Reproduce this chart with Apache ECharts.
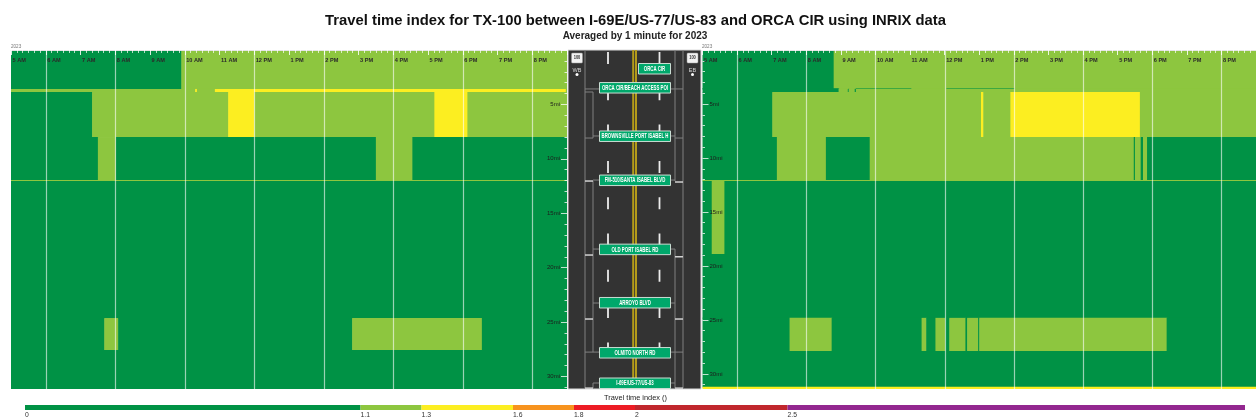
<!DOCTYPE html>
<html><head><meta charset="utf-8">
<style>html,body{margin:0;padding:0;background:#fff}#c{width:1256px;height:419px}</style>
<script src="https://cdn.jsdelivr.net/npm/echarts@6/dist/echarts.min.js"></script>
</head><body><div id="c"></div>
<script>
// --- Data: [startMinute, endMinute, topMile, bottomMile, travelTimeIndex]
const leftSpans = [
  [300,594,0,3.58,1.0],[594,1260,0,3.58,1.2],
  [300,618,3.58,3.86,1.2],[618,621,3.58,3.86,1.4],[621,652,3.58,3.86,1.2],[652,1258,3.58,3.86,1.4],[1258,1260,3.58,3.86,1.2],
  [300,440,3.86,8.0,1.0],[440,675,3.86,8.0,1.2],[675,720,3.86,8.0,1.4],[720,1031,3.86,8.0,1.2],[1031,1088,3.86,8.0,1.4],[1088,1260,3.86,8.0,1.2],
  [300,450,8.0,11.95,1.0],[450,481,8.0,11.95,1.2],[481,930,8.0,11.95,1.0],[930,993,8.0,11.95,1.2],[993,1260,8.0,11.95,1.0],
  [300,1260,11.95,12.04,1.2],
  [300,1260,12.04,24.63,1.0],
  [300,461,24.63,27.57,1.0],[461,485,24.63,27.57,1.2],[485,889,24.63,27.57,1.0],[889,1113,24.63,27.57,1.2],[1113,1260,24.63,27.57,1.0],
  [300,1260,27.57,31.15,1.0]
];
const rightSpans = [
  [300,527.5,0,3.55,1.0],[527.5,1260,0,3.55,1.2],
  [300,536,3.55,3.6,1.0],[536,566,3.55,3.6,1.2],[566,662,3.55,3.6,1.0],[662,723,3.55,3.6,1.2],[723,841,3.55,3.6,1.0],[841,1260,3.55,3.6,1.2],
  [300,536,3.6,3.89,1.0],[536,552,3.6,3.89,1.2],[552,553.5,3.6,3.89,1.0],[553.5,564,3.6,3.89,1.2],[564,566,3.6,3.89,1.0],[566,1260,3.6,3.89,1.2],
  [300,421,3.89,8.06,1.0],[421,783,3.89,8.06,1.2],[783,787,3.89,8.06,1.4],[787,834,3.89,8.06,1.2],[834,1058.6,3.89,8.06,1.4],[1058.6,1260,3.89,8.06,1.2],
  [300,429,8.06,12.04,1.0],[429,514,8.06,12.04,1.2],[514,590,8.06,12.04,1.0],[590,1048,8.06,12.04,1.2],[1048,1050,8.06,12.04,1.0],[1050,1060,8.06,12.04,1.2],[1060,1064,8.06,12.04,1.0],[1064,1071,8.06,12.04,1.2],[1071,1260,8.06,12.04,1.0],
  [300,1260,12.04,12.13,1.2],
  [300,316,12.13,18.89,1.0],[316,338,12.13,18.89,1.2],[338,1260,12.13,18.89,1.0],
  [300,1260,18.89,24.81,1.0],
  [300,451,24.81,27.87,1.0],[451,524,24.81,27.87,1.2],[524,680,24.81,27.87,1.0],[680,688,24.81,27.87,1.2],[688,704,24.81,27.87,1.0],[704,721,24.81,27.87,1.2],[721,728,24.81,27.87,1.0],[728,756,24.81,27.87,1.2],[756,759,24.81,27.87,1.0],[759,778,24.81,27.87,1.2],[778,780,24.81,27.87,1.0],[780,1105,24.81,27.87,1.2],[1105,1260,24.81,27.87,1.0],
  [300,1260,27.87,31.2,1.0],
  [300,1260,31.2,31.4,1.4]
];
const evenHourLines = [360,480,600,720,840,960,1080,1200];
const signNames = ['ORCA CIR','ORCA CIR/BEACH ACCESS POI','BROWNSVILLE PORT ISABEL H','FM-510/SANTA ISABEL BLVD','OLD PORT ISABEL RD','ARROYO BLVD','OLMITO NORTH RD','I-69E/US-77/US-83'];
const signMiles = [1.7,3.45,7.9,11.95,18.3,23.2,27.8,30.6];
const directionLabels = ['WB','EB'];
const legendBreaks = [0,1.1,1.3,1.6,1.8,2,2.5,4];
const legendColors = ['#009245','#8DC63F','#FCEE21','#F7931E','#ED1C24','#C1272D','#93278F'];
const legendTicks = [0,1.1,1.3,1.6,1.8,2,2.5];
// road connector polylines: [laneUnit, mile]
const roadConnectors = [
  [[17,0],[17,31.15]],[[17,3.58],[31,3.58]],[[17,3.86],[25,3.86],[25,7.9],[31,7.9]],[[25,7.9],[25,8.09],[17,8.09]],
  [[25,12.04],[25,18.29],[31,18.29]],[[25,18.29],[25,27.76]],[[25,23.25],[31,23.25]],[[17,27.76],[31,27.76]],
  [[25,31.15],[25,30.6],[31,30.6]],[[25,11.95],[31,11.95]],
  [[115,0],[115,31.15]],[[107,0],[107,12.04]],[[103,3.58],[115,3.58]],[[103,7.9],[107,7.9]],[[107,8.09],[115,8.09]],[[103,11.95],[107,11.95]],
  [[103,18.29],[107,18.29],[107,31.15]],[[103,23.25],[107,23.25]],[[103,27.76],[115,27.76]],[[103,30.6],[107,30.6]]
];
const roadBars = [
  [[17,12.04],[25,12.04]],[[17,18.84],[25,18.84]],[[17,24.72],[25,24.72]],[[17,31.07],[25,31.07]],
  [[107,12.13],[115,12.13]],[[107,19],[115,19]],[[107,24.72],[115,24.72]],[[107,31.07],[115,31.07]]
];

function ttiColor(v){
  for(let i=legendColors.length-1;i>=0;i--) if(v>=legendBreaks[i]) return legendColors[i];
  return legendColors[0];
}
const FONT='"Liberation Sans",Arial,sans-serif';
function spanSeries(xi,data,maxMi){
  return {type:'custom',xAxisIndex:xi,yAxisIndex:xi,silent:true,animation:false,data:data,z:2,
    encode:{x:[0,1],y:[2,3]},
    renderItem(p,api){
      const a=api.coord([api.value(0),api.value(2)]),b=api.coord([api.value(1),api.value(3)]);
      const w=b[0]-a[0]+(api.value(1)<1260?0.6:0), h=b[1]-a[1]+(api.value(3)<maxMi?0.6:0);
      return {type:'rect',shape:{x:a[0],y:a[1],width:w,height:h},style:{fill:ttiColor(api.value(4))}};
    }};
}
function guideSeries(xi,maxMi){
  return {type:'custom',xAxisIndex:xi,yAxisIndex:xi,silent:true,animation:false,data:evenHourLines.map(h=>[h]),z:3,
    encode:{x:0},
    renderItem(p,api){
      const a=api.coord([api.value(0),0]),b=api.coord([api.value(0),maxMi]);
      const x=Math.round(a[0])+0.5;
      return {type:'line',shape:{x1:x,y1:a[1],x2:x,y2:b[1]},style:{stroke:'rgba(255,255,255,0.6)',lineWidth:1.2}};
    }};
}
function hourLabel(m){
  if(m>=1260) return '';
  const h=Math.round(m/60);
  return (h>12?h-12:h)+(h>=12?' PM':' AM');
}
function timeAxis(gi){
  return {gridIndex:gi,type:'value',min:300,max:1260,interval:60,position:'top',z:10,
    axisLine:{show:true,onZero:false,lineStyle:{color:'#e4e4e4',width:1}},
    axisTick:{show:true,inside:true,length:5,lineStyle:{color:'rgba(255,255,255,0.85)',width:1}},
    minorTick:{show:true,splitNumber:6,length:3,lineStyle:{color:'rgba(255,255,255,0.7)',width:1}},
    splitLine:{show:false},minorSplitLine:{show:false},
    axisLabel:{inside:true,margin:7,align:'left',padding:[0,0,0,1.5],fontFamily:FONT,fontSize:5.6,fontWeight:'bold',color:'#2a2a2a',
      formatter:v=>hourLabel(v),showMaxLabel:false,hideOverlap:false}};
}
function mileAxis(gi,maxMi,pos){
  return {gridIndex:gi,type:'value',min:0,max:maxMi,interval:5,inverse:true,position:pos,z:10,
    axisLine:{show:false,onZero:false},
    axisTick:{show:true,inside:true,length:6,lineStyle:{color:'rgba(255,255,255,0.75)',width:1}},
    minorTick:{show:true,splitNumber:5,length:2.5,lineStyle:{color:'rgba(255,255,255,0.75)',width:1}},
    splitLine:{show:false},minorSplitLine:{show:false},
    axisLabel:{inside:true,margin:7,fontFamily:FONT,fontSize:6,color:'#1c1c1c',
      formatter:v=>(v>0&&v%5===0)?v+'mi':'',showMinLabel:false,showMaxLabel:false}};
}
const option={
  backgroundColor:'#fff',animation:false,
  title:[
    {text:'Travel time index for TX-100 between I-69E/US-77/US-83 and ORCA CIR using INRIX data',left:630.5,top:8,textAlign:'center',textStyle:{fontFamily:FONT,fontSize:14.8,fontWeight:'bold',color:'#111'}},
    {text:'Averaged by 1 minute for 2023',left:630,top:26,textAlign:'center',textStyle:{fontFamily:FONT,fontSize:10,fontWeight:'bold',color:'#222'}},
    {text:'Travel time index ()',left:630.5,top:389,textAlign:'center',textStyle:{fontFamily:FONT,fontSize:7.4,fontWeight:'normal',color:'#222'}},
    {text:'2023',left:6,top:39.5,textStyle:{fontFamily:FONT,fontSize:4.6,fontWeight:'normal',color:'#777'}},
    {text:'2023',left:697,top:39.5,textStyle:{fontFamily:FONT,fontSize:4.6,fontWeight:'normal',color:'#777'}}
  ],
  grid:[
    {left:11,top:50,width:556,height:339,show:false},
    {left:702.5,top:50,width:555,height:339,show:false},
    {left:568,top:50,width:133,height:339,show:true,backgroundColor:'#333333',borderColor:'#dcdcdc',borderWidth:1},
    {left:25,top:405,width:1220,height:5,show:false}
  ],
  xAxis:[timeAxis(0),timeAxis(1),
    {gridIndex:2,type:'value',min:0,max:133,show:false},
    {gridIndex:3,type:'value',min:0,max:4,position:'bottom',
      axisLine:{show:false},axisTick:{show:false},splitLine:{show:false},
      axisLabel:{show:true,customValues:legendTicks,align:'left',margin:1.5,fontFamily:FONT,fontSize:6.8,color:'#333',formatter:v=>String(v)}}
  ],
  yAxis:[mileAxis(0,31.15,'right'),mileAxis(1,31.4,'left'),
    {gridIndex:2,type:'value',min:0,max:31.15,inverse:true,show:false},
    {gridIndex:3,type:'value',min:0,max:1,show:false}
  ],
  series:[
    spanSeries(0,leftSpans,31.15),spanSeries(1,rightSpans,31.4),
    guideSeries(0,31.15),guideSeries(1,31.4),
    // lane markings: flag 1 = centre line, 0 = dashed lane divider
    {type:'custom',xAxisIndex:2,yAxisIndex:2,silent:true,data:[[65.2,1],[68,1],[40,0],[91.5,0]],z:3,encode:{x:0},
     renderItem(p,api){
      const a=api.coord([api.value(0),0]),b=api.coord([api.value(0),31.15]);
      return {type:'line',shape:{x1:a[0],y1:a[1],x2:a[0],y2:b[1]},
        style:api.value(1)===1?{stroke:'#B39B1A',lineWidth:2}:{stroke:'#ECECEC',lineWidth:1.8,lineDash:[12,24.3],lineDashOffset:-2}};
     }},
    // connectors
    {type:'custom',xAxisIndex:2,yAxisIndex:2,silent:true,data:roadConnectors.map((l,i)=>[i]),z:4,encode:{x:0},
     renderItem(p,api){
      const l=roadConnectors[api.value(0)];
      return {type:'polyline',shape:{points:l.map(q=>api.coord(q))},style:{stroke:'#808080',lineWidth:1,fill:null}};
     }},
    {type:'custom',xAxisIndex:2,yAxisIndex:2,silent:true,data:roadBars.map((l,i)=>[i]),z:5,encode:{x:0},
     renderItem(p,api){
      const l=roadBars[api.value(0)];
      return {type:'polyline',shape:{points:l.map(q=>api.coord(q))},style:{stroke:'#d2d2d2',lineWidth:1.5,fill:null}};
     }},
    // route shields and direction labels
    {type:'custom',xAxisIndex:2,yAxisIndex:2,silent:true,data:[[9,0],[124.5,1]],z:6,encode:{x:0},
     renderItem(p,api){
      const c=api.coord([api.value(0),0.74]),t=api.coord([api.value(0),1.85]),d=api.coord([api.value(0),2.25]);
      return {type:'group',children:[
        {type:'rect',shape:{x:c[0]-5.5,y:c[1]-5,width:11,height:10,r:1},style:{fill:'#f2f2f2',stroke:'#999',lineWidth:0.5}},
        {type:'text',x:c[0],y:c[1],scaleX:0.8,style:{text:'100',fill:'#333',font:'bold 5px '+FONT,align:'center',verticalAlign:'middle'}},
        {type:'text',x:t[0],y:t[1],style:{text:directionLabels[api.value(1)],fill:'#d8d8d8',font:'5.5px '+FONT,align:'center',verticalAlign:'middle'}},
        {type:'circle',shape:{cx:d[0],cy:d[1],r:1.5},style:{fill:'#fff'}}
      ]};
     }},
    // street signs
    {type:'custom',xAxisIndex:2,yAxisIndex:2,silent:true,data:signMiles.map((m,i)=>[i===0?70:31,m,i]),z:7,encode:{x:0,y:1},
     renderItem(p,api){
      const a=api.coord([api.value(0),api.value(1)]),b=api.coord([103,api.value(1)]);
      return {type:'group',children:[
        {type:'rect',shape:{x:a[0]+0.5,y:a[1]-5,width:b[0]-a[0]-1,height:10.5},style:{fill:'#00A86B',stroke:'#C9DDD3',lineWidth:1}},
        {type:'text',x:(a[0]+b[0])/2,y:a[1]+0.5,scaleX:0.62,style:{text:signNames[api.value(2)],fill:'#fff',font:'bold 7px '+FONT,align:'center',verticalAlign:'middle'}}
      ]};
     }},
    // colour legend
    {type:'custom',xAxisIndex:3,yAxisIndex:3,silent:true,data:legendColors.map((c,i)=>[legendBreaks[i],legendBreaks[i+1]]),z:2,encode:{x:[0,1]},
     renderItem(p,api){
      const a=api.coord([api.value(0),1]),b=api.coord([api.value(1),0]);
      return {type:'rect',shape:{x:a[0],y:a[1],width:b[0]-a[0],height:b[1]-a[1]},style:{fill:ttiColor(api.value(0))}};
     }}
  ]
};
const chart=echarts.init(document.getElementById('c'),null,{renderer:'canvas',width:1256,height:419});
chart.setOption(option);
</script></body></html>
